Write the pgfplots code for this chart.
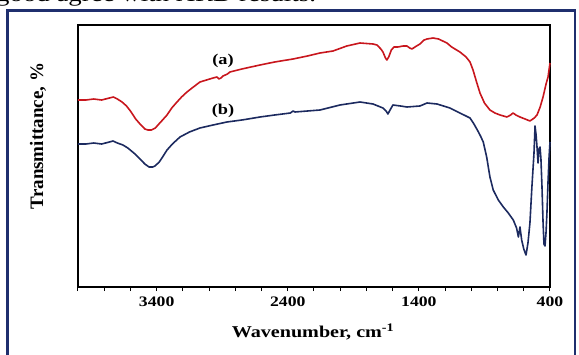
\documentclass[border=0pt]{standalone}
\usepackage{fontspec}
\setmainfont{Liberation Serif}
\newfontfamily\sfont{Liberation Serif}[FakeStretch=1.22]
\usepackage{pgfplots}
\pgfplotsset{compat=1.18}
\definecolor{redc}{HTML}{C8161D}
\definecolor{bluec}{HTML}{1C2A5F}
\definecolor{framec}{HTML}{1F2F6E}
\pgfplotstableread{
x y
4000 187
3940 187
3880 188
3820 187
3760 189
3730 190
3700 188
3664 185
3630 181
3600 176
3560 168
3527 163
3490 158
3466 157
3440 157
3410 159
3390 162
3355 167
3321 172
3285 179
3245 185
3210 190
3169 195
3120 200
3070 205
3020 207
2970 209
2940 210
2925 208
2910 209
2894 211
2860 213
2841 215
2750 218
2612 222
2500 225
2360 228
2250 231
2154 234
2055 236
1950 241
1849 244
1750 243
1720 242
1690 238
1674 235
1655 229
1644 227
1630 230
1610 237
1590 240
1560 240
1520 241
1491 241
1470 239
1453 238
1430 240
1392 243
1360 247
1338 248
1292 249
1250 248
1186 244
1150 240
1087 235
1040 230
1010 225
987 217
960 205
934 194
900 184
858 177
820 174
781 172
728 170
700 172
682 174
660 172
629 170
590 168
553 166
520 169
499 172
475 180
453 190
430 203
415 210
400 224
}\reddata
\pgfplotstableread{
x y
4000 143
3940 143
3880 144
3820 143
3760 145
3733 146
3700 144
3657 142
3620 139
3565 133
3520 127
3490 123
3458 120
3430 120
3413 121
3380 125
3350 131
3321 137
3280 143
3222 150
3150 155
3070 159
2970 162
2864 165
2750 167
2612 170
2500 172
2380 174
2360 176
2345 175
2250 176
2154 177
2002 182
1849 185
1750 183
1674 179
1650 176
1636 173
1620 177
1598 182
1540 181
1491 180
1392 181
1338 184
1262 183
1163 179
1087 174
1010 169
980 163
950 156
930 151
909 145
883 130
858 110
833 97
794 87
756 80
718 74
680 67
655 59
641 50
629 60
616 47
600 38
583 32
568 44
553 64
538 100
522 134
514 161
506 152
499 140
491 124
484 138
476 140
469 128
461 100
453 65
446 43
438 41
430 55
423 75
415 105
407 130
400 145
}\bluedata
\begin{document}
\begin{tikzpicture}
\useasboundingbox (0pt,0pt) rectangle (579pt,354pt);
\node[anchor=base west, inner sep=0, font=\sfont\fontsize{22}{24}\selectfont] at (-4pt,352pt) {good agree with XRD results.};
\draw[framec, line width=2.5pt] (7.5pt,-10pt) rectangle (575pt,343.5pt);
\begin{axis}[
  at={(314pt,198pt)}, anchor=center,
  scale only axis, width=472pt, height=262pt,
  xmin=400, xmax=4000, x dir=reverse,
  ymin=0, ymax=262, ytick=\empty,
  xtick={400,1400,2400,3400},
  minor xtick={600,800,1000,1200,1600,1800,2000,2200,2600,2800,3000,3200,3600,3800,4000},
  xtick pos=bottom, tick align=outside,
  major tick length=4pt, minor tick length=4pt,
  tick style={black, line width=1pt},
  axis line style={line width=1.2pt},
  /pgf/number format/assume math mode=true,
  /pgf/number format/1000 sep={},
  xticklabel style={font=\sfont\bfseries\fontsize{14.5}{16}\selectfont, yshift=-2pt},
  clip=false,
]
\addplot[redc, line width=1.6pt, line join=round] table[x=x,y=y] {\reddata};
\addplot[bluec, line width=1.6pt, line join=round] table[x=x,y=y] {\bluedata};
\node[font=\sfont\bfseries\fontsize{15}{17}\selectfont] at (axis cs:2894,226) {(a)};
\node[font=\sfont\bfseries\fontsize{15}{17}\selectfont] at (axis cs:2894,176) {(b)};
\end{axis}
\node[font=\bfseries\fontsize{19}{21}\selectfont, rotate=90] at (38pt,218pt) {Transmittance, \%};
\node[font=\sfont\bfseries\fontsize{16.5}{19}\selectfont] at (313pt,22pt) {Wavenumber, cm\textsuperscript{-1}};
\end{tikzpicture}
\end{document}
